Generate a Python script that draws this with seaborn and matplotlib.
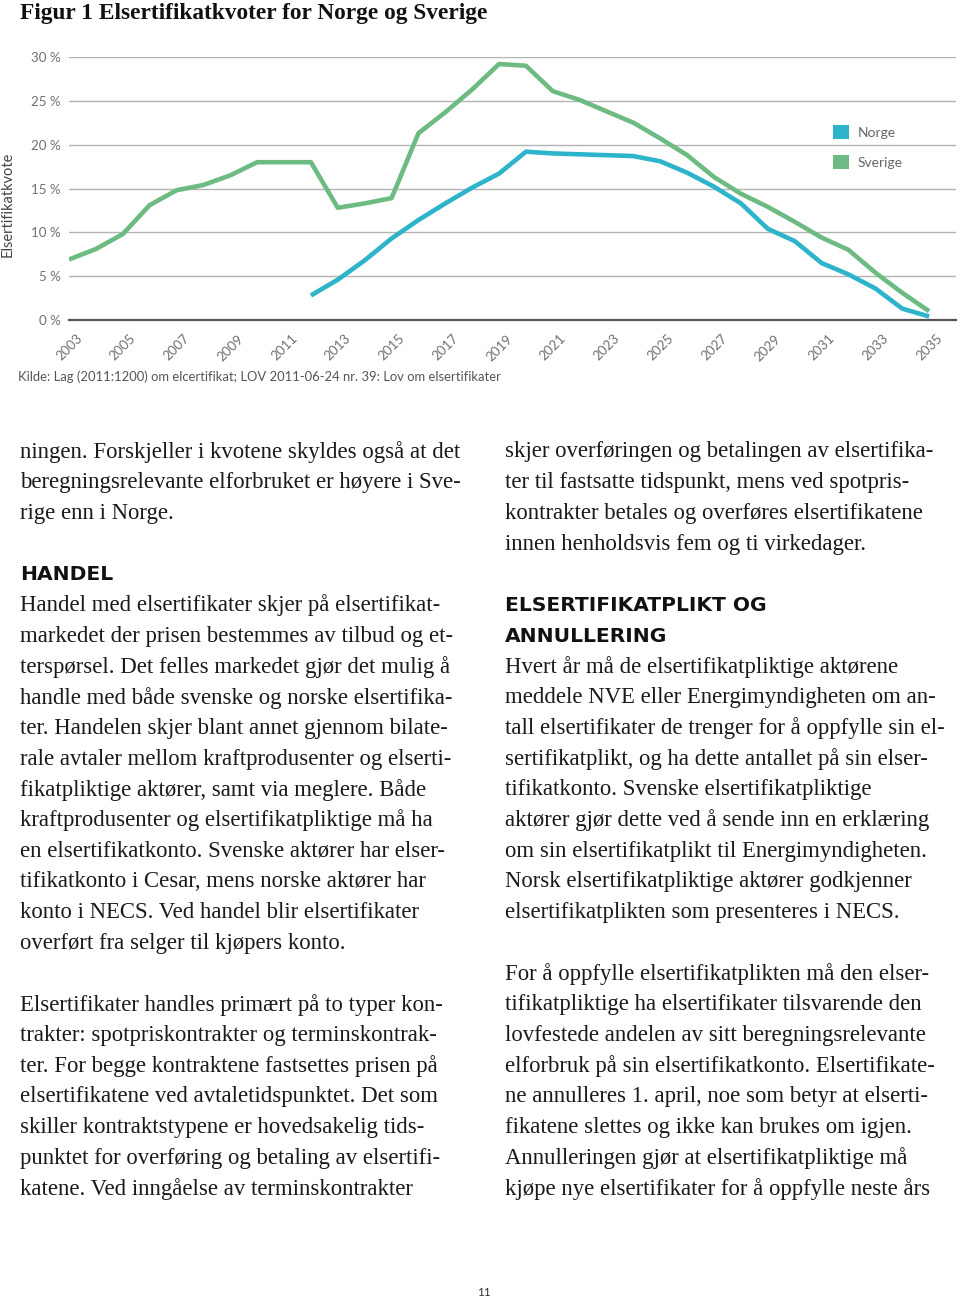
import pandas as pd
import seaborn as sns
import matplotlib.pyplot as plt
from matplotlib.patches import Patch

# Elsertifikatkvoter (%)
years_sverige = list(range(2003, 2036))
kvote_sverige = [6.9, 8.1, 9.8, 13.1, 14.8, 15.4, 16.5, 18.0, 18.0, 18.0,
                 12.8, 13.3, 13.9, 21.3, 23.7, 26.3, 29.2, 29.0, 26.1, 25.1,
                 23.8, 22.5, 20.7, 18.8, 16.3, 14.4, 12.9, 11.2, 9.4, 8.0,
                 5.4, 3.1, 1.0]
years_norge = list(range(2012, 2036))
kvote_norge = [2.8, 4.6, 6.8, 9.3, 11.4, 13.3, 15.1, 16.7, 19.2, 19.0,
               18.9, 18.8, 18.7, 18.1, 16.8, 15.2, 13.3, 10.4, 9.0, 6.5,
               5.2, 3.6, 1.3, 0.4]

land = ["Norge", "Sverige"]
farger = ["#2db4cb", "#6dbb82"]
y_ticks = [0, 5, 10, 15, 20, 25, 30]

title = "Figur 1 Elsertifikatkvoter for Norge og Sverige"
ylabel = "Elsertifikatkvote"
kilde = "Kilde: Lag (2011:1200) om elcertifikat; LOV 2011-06-24 nr. 39: Lov om elsertifikater"

# page text, one entry per line (None = blank line, ("H", ...) = heading)
left_col = [
    "ningen. Forskjeller i kvotene skyldes også at det",
    "beregningsrelevante elforbruket er høyere i Sve-",
    "rige enn i Norge.",
    None,
    ("H", "HANDEL"),
    "Handel med elsertifikater skjer på elsertifikat-",
    "markedet der prisen bestemmes av tilbud og et-",
    "terspørsel. Det felles markedet gjør det mulig å",
    "handle med både svenske og norske elsertifika-",
    "ter. Handelen skjer blant annet gjennom bilate-",
    "rale avtaler mellom kraftprodusenter og elserti-",
    "fikatpliktige aktører, samt via meglere. Både",
    "kraftprodusenter og elsertifikatpliktige må ha",
    "en elsertifikatkonto. Svenske aktører har elser-",
    "tifikatkonto i Cesar, mens norske aktører har",
    "konto i NECS. Ved handel blir elsertifikater",
    "overført fra selger til kjøpers konto.",
    None,
    "Elsertifikater handles primært på to typer kon-",
    "trakter: spotpriskontrakter og terminskontrak-",
    "ter. For begge kontraktene fastsettes prisen på",
    "elsertifikatene ved avtaletidspunktet. Det som",
    "skiller kontraktstypene er hovedsakelig tids-",
    "punktet for overføring og betaling av elsertifi-",
    "katene. Ved inngåelse av terminskontrakter",
]
right_col = [
    "skjer overføringen og betalingen av elsertifika-",
    "ter til fastsatte tidspunkt, mens ved spotpris-",
    "kontrakter betales og overføres elsertifikatene",
    "innen henholdsvis fem og ti virkedager.",
    None,
    ("H", "ELSERTIFIKATPLIKT OG"),
    ("H", "ANNULLERING"),
    "Hvert år må de elsertifikatpliktige aktørene",
    "meddele NVE eller Energimyndigheten om an-",
    "tall elsertifikater de trenger for å oppfylle sin el-",
    "sertifikatplikt, og ha dette antallet på sin elser-",
    "tifikatkonto. Svenske elsertifikatpliktige",
    "aktører gjør dette ved å sende inn en erklæring",
    "om sin elsertifikatplikt til Energimyndigheten.",
    "Norsk elsertifikatpliktige aktører godkjenner",
    "elsertifikatplikten som presenteres i NECS.",
    None,
    "For å oppfylle elsertifikatplikten må den elser-",
    "tifikatpliktige ha elsertifikater tilsvarende den",
    "lovfestede andelen av sitt beregningsrelevante",
    "elforbruk på sin elsertifikatkonto. Elsertifikate-",
    "ne annulleres 1. april, noe som betyr at elserti-",
    "fikatene slettes og ikke kan brukes om igjen.",
    "Annulleringen gjør at elsertifikatpliktige må",
    "kjøpe nye elsertifikater for å oppfylle neste års",
]
page_no = "11"

df = pd.concat([
    pd.DataFrame({"År": years_norge, "Kvote": kvote_norge, "Land": "Norge"}),
    pd.DataFrame({"År": years_sverige, "Kvote": kvote_sverige, "Land": "Sverige"}),
])

sns.set_style("white")
plt.rcParams['font.family'] = ['Lato', 'DejaVu Sans']

W, H = 960, 1298
fig = plt.figure(figsize=(W / 100, H / 100), dpi=100)
ax = fig.add_axes([69 / W, 1 - 320 / H, 887 / W, 263 / H])

sns.lineplot(data=df, x="År", y="Kvote", hue="Land", hue_order=land,
             palette=dict(zip(land, farger)), linewidth=3.3, ax=ax, legend=False,
             solid_capstyle="butt")

grey = "#707070"
ax.set_xlim(2003, 2036)
ax.set_ylim(0, 30)
ax.set_yticks(y_ticks)
ax.set_yticklabels([f"{v} %" for v in y_ticks])
ax.yaxis.grid(True, color="#b3b3b3", linewidth=1)
ax.set_xticks(list(range(2003, 2037)))
ax.set_xticklabels([str(y) if (y % 2 == 1 and y < 2036) else "" for y in range(2003, 2037)],
                   rotation=45, ha="center", va="top")
ax.tick_params(axis="x", direction="out", length=8, width=1.3, color="#555555",
               pad=1, labelsize=9.6, labelcolor=grey)
ax.tick_params(axis="y", length=0, pad=6, labelsize=9.6, labelcolor=grey)
for s in ["top", "right", "left"]:
    ax.spines[s].set_visible(False)
ax.spines["bottom"].set_color("#555555")
ax.spines["bottom"].set_linewidth(1.6)
ax.set_xlabel("")
ax.set_ylabel("")

handles = [Patch(facecolor=c, edgecolor="none") for c in farger]
fig.legend(handles, land, loc="upper left", bbox_to_anchor=(833 / W, 1 - 125 / H),
           frameon=False, fontsize=10, labelcolor="#666666", handlelength=1.15,
           handleheight=1.15, handletextpad=0.6, labelspacing=1.2,
           borderpad=0, borderaxespad=0)

fig.text(20 / W, 1 - 13 / H, title, family="Liberation Serif", weight="bold",
         fontsize=16.8, va="center", ha="left", color="#111111")
fig.text(8 / W, 1 - 204 / H, ylabel, rotation=90, fontsize=10.5, color="#444444",
         va="center", ha="center")
fig.text(18 / W, 1 - 377 / H, kilde, fontsize=9.4, color="#555555", va="center")

pitch = 30.7
for x0, lines in [(20, left_col), (505, right_col)]:
    for i, line in enumerate(lines):
        if line is None:
            continue
        y = 1 - (452 + i * pitch) / H
        if isinstance(line, tuple):
            fig.text(x0 / W, y, line[1], family="DejaVu Sans", weight="bold", fontsize=14.6,
                     color="#111111", va="center", ha="left")
        else:
            fig.text(x0 / W, y, line, family="Liberation Serif", fontsize=16.4,
                     color="#1a1a1a", va="center", ha="left")

fig.text(484 / W, 1 - 1292 / H, page_no, fontsize=8.5, color="#333333",
         va="center", ha="center")

plt.savefig("out.png", dpi=100)
